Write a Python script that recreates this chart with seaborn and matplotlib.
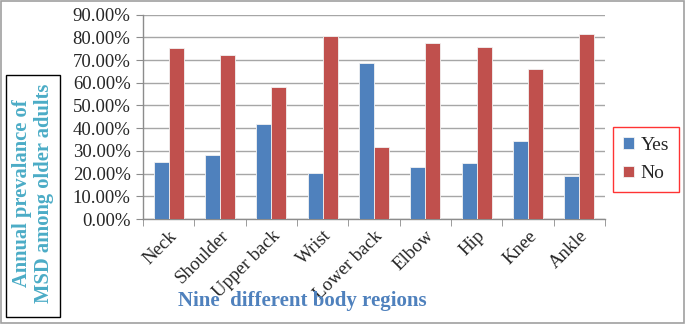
import numpy as np
import pandas as pd
import matplotlib.pyplot as plt
import seaborn as sns
from matplotlib.patches import Rectangle
from matplotlib.ticker import PercentFormatter

regions = ["Neck", "Shoulder", "Upper back", "Wrist", "Lower back",
           "Elbow", "Hip", "Knee", "Ankle"]
yes_vals = [0.250, 0.281, 0.420, 0.201, 0.689, 0.228, 0.245, 0.342, 0.191]
no_vals = [0.752, 0.723, 0.583, 0.806, 0.317, 0.777, 0.758, 0.662, 0.814]

df = pd.DataFrame({
    "region": regions * 2,
    "value": yes_vals + no_vals,
    "answer": ["Yes"] * len(regions) + ["No"] * len(regions),
})

sns.set_style("white")
plt.rcParams["font.family"] = ["Liberation Serif", "DejaVu Serif"]

fig = plt.figure(figsize=(6.85, 3.25), dpi=100)
ax = fig.add_axes([143 / 685, 1 - 219 / 325, 462 / 685, (219 - 14.7) / 325])

sns.barplot(data=df, x="region", y="value", hue="answer",
            palette={"Yes": "#4F81BD", "No": "#C0504D"}, saturation=1,
            width=0.58, edgecolor="#f2f2f2", linewidth=0.6,
            ax=ax, legend=True, zorder=3)

ax.set_ylim(0, 0.9)
ax.set_yticks(np.arange(0, 0.91, 0.1))
ax.yaxis.set_major_formatter(PercentFormatter(1.0, decimals=2))
ax.set_xlim(-0.5, len(regions) - 0.5)
ax.grid(axis="y", color="#a6a6a6", linewidth=1, zorder=0)
ax.set_axisbelow(True)

for s in ["top", "right"]:
    ax.spines[s].set_visible(False)
for s in ["left", "bottom"]:
    ax.spines[s].set_color("#8c8c8c")
    ax.spines[s].set_linewidth(1)

ax.set_xlabel("")
ax.set_ylabel("")
ax.tick_params(axis="y", labelsize=13.5, length=5, color="#8c8c8c",
               direction="out", pad=4, left=True)
ax.set_xticks(range(len(regions)))
ax.set_xticklabels(regions, rotation=45, ha="right",
                   rotation_mode="anchor", fontsize=13.5)
ax.tick_params(axis="x", length=0, pad=6)
ax.set_xticks(np.arange(-0.5, len(regions), 1), minor=True)
ax.tick_params(axis="x", which="minor", length=5, color="#8c8c8c",
               direction="out", bottom=True)

leg = ax.legend(loc="center", bbox_to_anchor=(646 / 685, 1 - 159.5 / 325),
                bbox_transform=fig.transFigure, frameon=True, fancybox=False,
                fontsize=14, handlelength=0.55, handleheight=0.55,
                handletextpad=0.35, labelspacing=0.6, borderpad=0.5,
                borderaxespad=0)
leg.get_frame().set_edgecolor("red")
leg.get_frame().set_linewidth(1)

fig.text(302 / 685, 1 - 301 / 325, "Nine  different body regions",
         color="#4F81BD", fontsize=15, fontweight="bold",
         ha="center", va="center")

fig.patches.append(Rectangle((6 / 685, 1 - 317 / 325), 54 / 685, 242 / 325,
                             transform=fig.transFigure, fill=False,
                             edgecolor="black", linewidth=1))
fig.text(33 / 685, 1 - 193 / 325, "Annual prevalance of\nMSD among older adults",
         color="#4BACC6", fontsize=14.8, fontweight="bold", rotation=90,
         ha="center", va="center", multialignment="center", linespacing=1.1)

fig.patches.append(Rectangle((0.001, 0.006), 0.997, 0.99,
                             transform=fig.transFigure, fill=False,
                             edgecolor="#a0a0a0", linewidth=1.2))

fig.savefig("out.png", dpi=100)
